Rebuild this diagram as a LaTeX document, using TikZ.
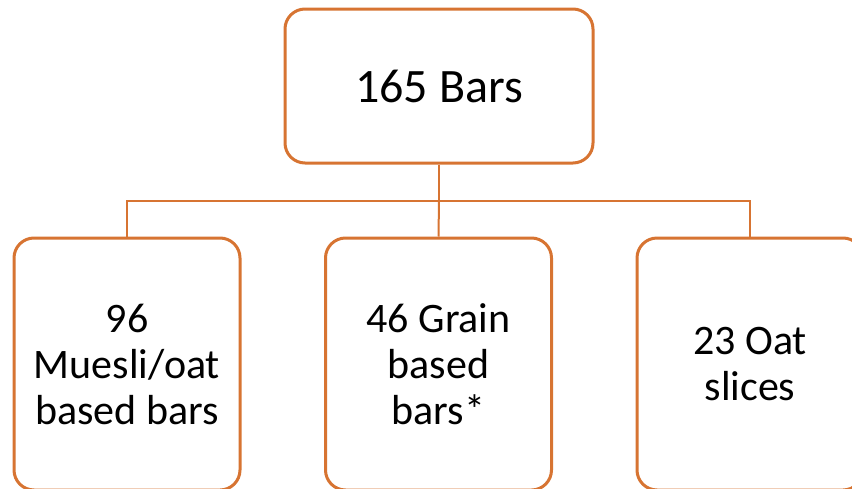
\documentclass[tikz,border=0pt]{standalone}
\usepackage{fontspec}
\setmainfont{Carlito}
\definecolor{boxorange}{RGB}{215,116,50}
\tikzset{
  bar box/.style={draw=boxorange, line width=3pt, rounded corners=20pt, fill=white,
    align=center, inner sep=0pt, font=\fontsize{42}{46}\selectfont},
  link/.style={draw=boxorange, line width=2pt}
}
\begin{document}
\begin{tikzpicture}[x=1pt, y=-1pt]
  \useasboundingbox (0,0) rectangle (852,488);
  \clip (0,0) rectangle (852,488);
  % root
  \node[bar box, minimum width=308pt, minimum height=154pt, font=\fontsize{48}{52}\selectfont]
    (root) at (439,86) {165 Bars};
  % categories
  \node[bar box, minimum width=226pt, minimum height=252pt] (muesli) at (127,364)
    {96\\Muesli/oat\\based bars};
  \node[bar box, minimum width=226pt, minimum height=252pt] (grain) at (438.5,364)
    {46 Grain\\based\\bars*};
  \node[bar box, minimum width=226pt, minimum height=252pt] (slices) at (750,364)
    {23 Oat\\slices};
  % tree connectors
  \coordinate (bus) at (439,201);
  \draw[link] (root.south) -- (bus);
  \draw[link] (bus) -| (muesli.north);
  \draw[link] (bus) -| (slices.north);
  \draw[link] (bus) -- (grain.north);
\end{tikzpicture}
\end{document}
